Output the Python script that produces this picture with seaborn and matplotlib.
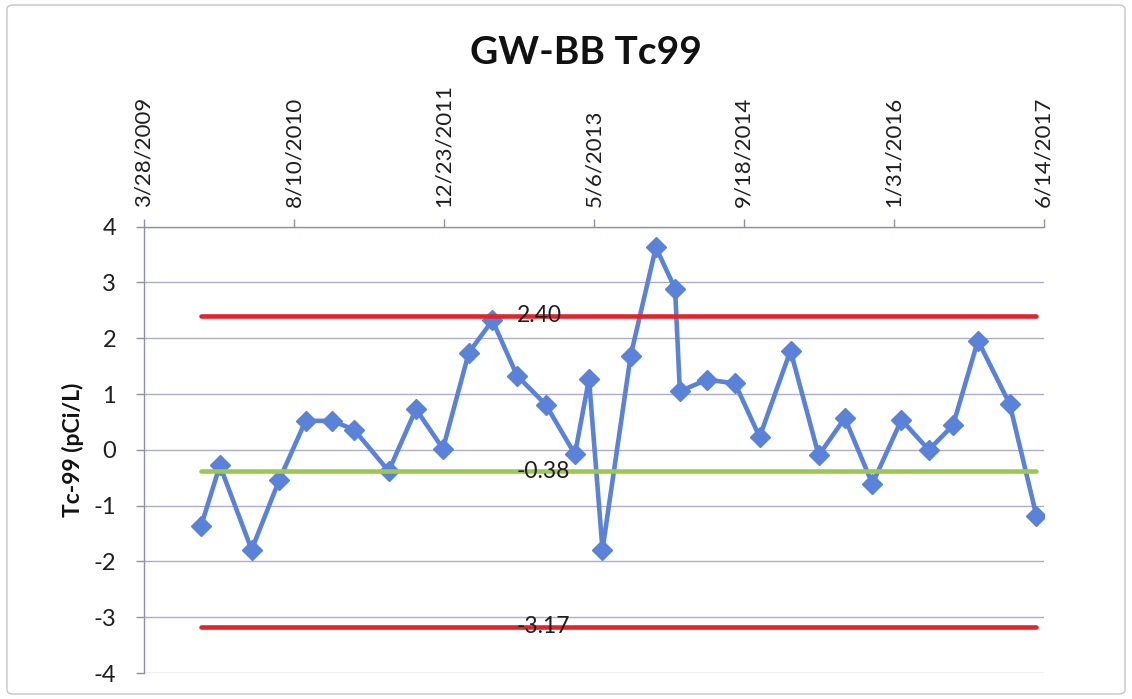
import numpy as np
import pandas as pd
import matplotlib
matplotlib.use("Agg")
import matplotlib.pyplot as plt
import seaborn as sns
from matplotlib.patches import FancyBboxPatch

# ---------------- data ----------------
sample_dates = [
    "2009-10-04", "2009-12-06", "2010-03-22", "2010-06-22", "2010-09-18",
    "2010-12-16", "2011-02-27", "2011-06-22", "2011-09-21", "2011-12-20",
    "2012-03-15", "2012-06-02", "2012-08-23", "2012-11-27", "2013-03-04",
    "2013-04-20", "2013-06-04", "2013-09-06", "2013-11-29", "2014-02-01",
    "2014-02-17", "2014-05-19", "2014-08-20", "2014-11-10", "2015-02-21",
    "2015-05-26", "2015-08-21", "2015-11-21", "2016-02-26", "2016-05-27",
    "2016-08-16", "2016-11-07", "2017-02-21", "2017-05-21",
]
tc99_values = [
    -1.37, -0.28, -1.79, -0.54, 0.52,
    0.52, 0.36, -0.38, 0.73, 0.02,
    1.74, 2.32, 1.33, 0.81, -0.08,
    1.27, -1.79, 1.69, 3.63, 2.89,
    1.05, 1.26, 1.19, 0.23, 1.78,
    -0.10, 0.57, -0.61, 0.54, 0.00,
    0.44, 1.96, 0.82, -1.18,
]
upper_limit = 2.40
mean_value = -0.38
lower_limit = -3.17

x_axis_start = "2009-03-28"
x_axis_end = "2017-06-14"
x_tick_step = "500D"
y_ticks = [-4, -3, -2, -1, 0, 1, 2, 3, 4]

title_text = "GW-BB Tc99"
y_label_text = "Tc-99 (pCi/L)"

# ---------------- style ----------------
sns.set_theme(style="white")
plt.rcParams["font.family"] = ["Lato", "DejaVu Sans"]

blue = "#5A82D8"
red = "#E0262A"
green = "#9CC852"
grid_col = "#ADADC8"
axis_col = "#8E8EAE"
text_col = "#1E1E1E"

fig = plt.figure(figsize=(11.32, 6.99), dpi=100)
ax = fig.add_axes([144 / 1132, 1 - 673 / 699, (1043.6 - 144) / 1132, (673 - 226.7) / 699])

df = pd.DataFrame({"date": pd.to_datetime(sample_dates), "tc99": tc99_values})

sns.lineplot(data=df, x="date", y="tc99", ax=ax, color=blue, linewidth=3.3,
             marker="D", markersize=10.5, markeredgecolor=blue, markeredgewidth=1,
             estimator=None, sort=False, zorder=3)

for val, col in [(upper_limit, red), (mean_value, green), (lower_limit, red)]:
    ref = pd.DataFrame({"date": df["date"], "v": [val] * len(df)})
    sns.lineplot(data=ref, x="date", y="v", ax=ax, color=col, linewidth=3.3,
                 estimator=None, sort=False, zorder=4, solid_capstyle="round")
    ax.text(df["date"].iloc[12], val, f"{val:.2f}", ha="left", va="center",
            fontsize=16.5, color=text_col, zorder=5)

# axes limits and ticks
x0 = pd.Timestamp(x_axis_start)
x1 = pd.Timestamp(x_axis_end)
ax.set_xlim(x0, x1)
ax.set_ylim(min(y_ticks), max(y_ticks))
xt = pd.date_range(x0, x1, freq=x_tick_step)
ax.set_xticks(xt)
ax.set_xticklabels([f"{d.month}/{d.day}/{d.year}" for d in xt], rotation=90,
                   fontsize=16, color=text_col)
ax.set_yticks(y_ticks)
ax.set_yticklabels([str(t) for t in y_ticks], fontsize=17, color=text_col)

ax.xaxis.tick_top()
ax.tick_params(axis="x", which="both", top=True, bottom=False, direction="out",
               length=6, width=1, color=axis_col, pad=8)
ax.tick_params(axis="y", which="both", left=True, direction="out",
               length=6, width=1, color=axis_col, pad=14)

ax.yaxis.grid(True, color=grid_col, linewidth=1)
ax.xaxis.grid(False)
for side in ["right", "bottom"]:
    ax.spines[side].set_visible(False)
for side in ["left", "top"]:
    ax.spines[side].set_color(axis_col)
    ax.spines[side].set_linewidth(1)

ax.set_xlabel("")
ax.set_ylabel(y_label_text, fontsize=16.5, fontweight="bold", color="#111111")
ax.yaxis.set_label_coords((84 - 144) / 899.6, 0.5)

fig.text(586 / 1132, 1 - 53 / 699, title_text, ha="center", va="center",
         fontsize=28, fontweight="bold", color="#111111")

border = FancyBboxPatch((7 / 1132, 5 / 699), (1125 - 7) / 1132, (694 - 5) / 699,
                        boxstyle="round,pad=0,rounding_size=0.006",
                        transform=fig.transFigure, fill=False,
                        edgecolor="#C4C4D2", linewidth=1)
fig.patches.append(border)

fig.savefig("out.png", dpi=100)
